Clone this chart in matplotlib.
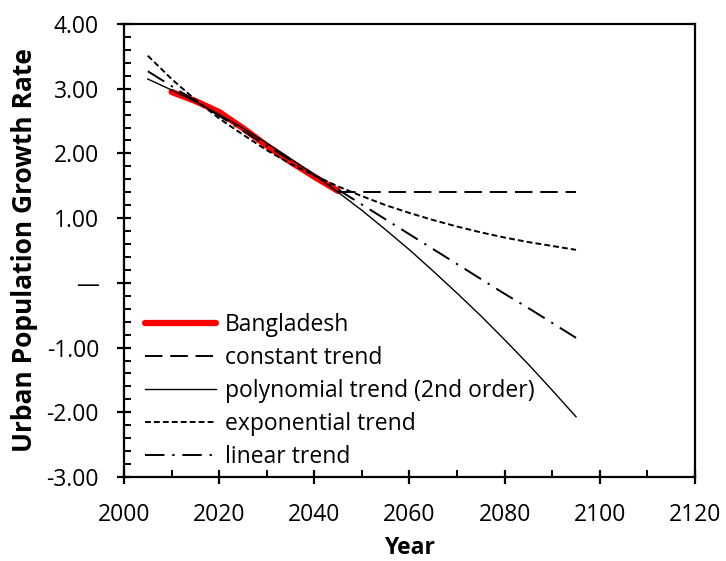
import numpy as np
import matplotlib.pyplot as plt
from matplotlib.ticker import MultipleLocator, FuncFormatter

obs_years = [2010, 2015, 2020, 2025, 2030, 2035, 2040, 2045]
bangladesh = [2.95, 2.81, 2.64, 2.39, 2.12, 1.87, 1.64, 1.42]

# projections
const_years = [2045, 2095]
constant = [1.41, 1.41]

trend_years = list(range(2005, 2100, 5))
polynomial = [3.15, 2.98, 2.80, 2.60, 2.39, 2.16, 1.92, 1.67, 1.40, 1.12,
              0.82, 0.51, 0.18, -0.16, -0.51, -0.88, -1.26, -1.66, -2.07]
exponential = [3.51, 3.15, 2.83, 2.54, 2.29, 2.05, 1.84, 1.66, 1.49, 1.34,
               1.20, 1.08, 0.97, 0.87, 0.78, 0.70, 0.63, 0.57, 0.51]
linear = [3.27, 3.04, 2.81, 2.58, 2.35, 2.12, 1.90, 1.67, 1.44, 1.21,
          0.98, 0.75, 0.52, 0.29, 0.06, -0.17, -0.39, -0.62, -0.85]

plt.rcParams['font.family'] = ['Open Sans', 'DejaVu Sans']
FS = 16.5

fig = plt.figure(figsize=(7.26, 5.61), dpi=100, facecolor='white')
ax = fig.add_axes([124/726, 1-477/561, 571/726, 453/561])

ax.plot(obs_years, bangladesh, color='#ff0000', lw=4.5, solid_capstyle='round',
        solid_joinstyle='round', label='Bangladesh', zorder=2)
ax.plot(const_years, constant, color='black', lw=1.4, dashes=(9, 4),
        label='constant trend', zorder=3)
ax.plot(trend_years, polynomial, color='black', lw=1.0,
        label='polynomial trend (2nd order)', zorder=3)
ax.plot(trend_years, exponential, color='black', lw=1.4, dashes=(3, 1.6),
        label='exponential trend', zorder=3)
ax.plot(trend_years, linear, color='black', lw=1.4, dashes=(10, 4, 1.2, 4),
        label='linear trend', zorder=3)

ax.set_xlim(2000, 2120)
ax.set_ylim(-3, 4)
ax.xaxis.set_major_locator(MultipleLocator(20))
ax.xaxis.set_minor_locator(MultipleLocator(10))
ax.yaxis.set_major_locator(MultipleLocator(1))
ax.yaxis.set_minor_locator(MultipleLocator(0.2))


def yfmt(v, pos):
    if abs(v) < 1e-9:
        return '\u2014'
    return f'{v:.2f}'


ax.yaxis.set_major_formatter(FuncFormatter(yfmt))

for s in ax.spines.values():
    s.set_linewidth(1.6)
ax.tick_params(which='major', direction='inout', length=10, width=1.6,
               labelsize=FS)
ax.tick_params(which='minor', direction='in', length=5, width=1.4)
ax.tick_params(axis='x', which='major', pad=14)
ax.tick_params(axis='y', which='major', pad=13)

ax.set_xlabel('Year', fontsize=FS, fontweight='bold', labelpad=6)
ax.set_ylabel('Urban Population Growth Rate', fontsize=19,
              fontweight='bold', labelpad=6)

ax.legend(loc='lower left', bbox_to_anchor=(0.008, -0.018), frameon=False,
          fontsize=FS, handlelength=3.1, handletextpad=0.4, labelspacing=0.39,
          borderpad=0.2)

fig.savefig('out.png', dpi=100)
